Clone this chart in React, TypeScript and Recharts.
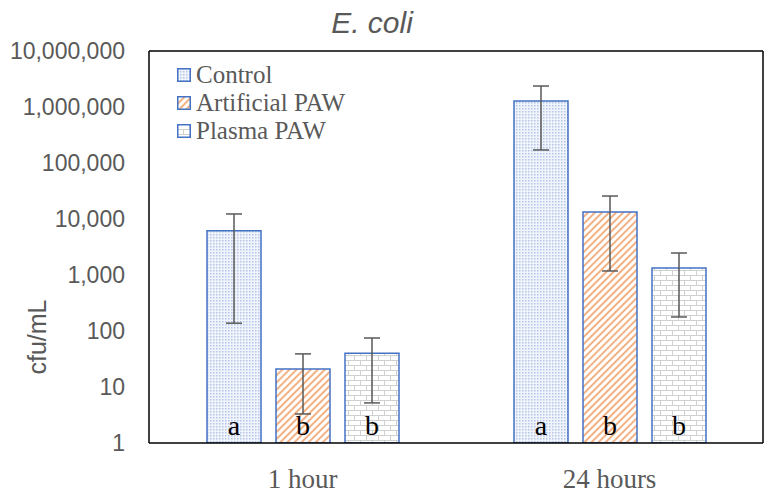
import React from "react";
import {
  BarChart,
  Bar,
  XAxis,
  YAxis,
  ErrorBar,
  LabelList,
  Legend,
  Label,
} from "recharts";

const CATEGORIES = ["1 hour", "24 hours"];

// bar heights (cfu/mL)
const CONTROL = [6150, 1280000];
const ARTIFICIAL = [21, 13300];
const PLASMA = [40, 1330];

// error bar ends (absolute values)
const CONTROL_LOW = [138, 171000];
const CONTROL_HIGH = [12300, 2370000];
const ARTIFICIAL_LOW = [3.3, 1180];
const ARTIFICIAL_HIGH = [39, 25700];
const PLASMA_LOW = [5.2, 178];
const PLASMA_HIGH = [75, 2470];

// significance letters
const CONTROL_LETTERS = ["a", "a"];
const ARTIFICIAL_LETTERS = ["b", "b"];
const PLASMA_LETTERS = ["b", "b"];

const Y_TICKS = [1, 10, 100, 1000, 10000, 100000, 1000000, 10000000];

const SERIES = [
  { key: "control", name: "Control", pattern: "pat-dots" },
  { key: "artificial", name: "Artificial PAW", pattern: "pat-stripes" },
  { key: "plasma", name: "Plasma PAW", pattern: "pat-brick" },
] as const;

const data = CATEGORIES.map((name, i) => ({
  name,
  control: CONTROL[i],
  controlErr: [CONTROL[i] - CONTROL_LOW[i], CONTROL_HIGH[i] - CONTROL[i]],
  controlLetter: CONTROL_LETTERS[i],
  artificial: ARTIFICIAL[i],
  artificialErr: [
    ARTIFICIAL[i] - ARTIFICIAL_LOW[i],
    ARTIFICIAL_HIGH[i] - ARTIFICIAL[i],
  ],
  artificialLetter: ARTIFICIAL_LETTERS[i],
  plasma: PLASMA[i],
  plasmaErr: [PLASMA[i] - PLASMA_LOW[i], PLASMA_HIGH[i] - PLASMA[i]],
  plasmaLetter: PLASMA_LETTERS[i],
}));

const GREY = "#595959";
const BLUE = "#4472c4";

const letterLabel = (props: any) => {
  const { x, y, width, height, value } = props;
  return (
    <text
      x={Number(x) + Number(width) / 2}
      y={Number(y) + Number(height) - 8}
      textAnchor="middle"
      fontFamily="Liberation Serif"
      fontSize={28}
      fill="#000"
    >
      {value}
    </text>
  );
};

const renderLegend = () => (
  <div style={{ display: "flex", flexDirection: "column" }}>
    {SERIES.map((s) => (
      <div
        key={s.key}
        style={{ height: 28, display: "flex", alignItems: "center" }}
      >
        <svg width={14} height={14} style={{ flex: "none" }}>
          <rect
            x={0.75}
            y={0.75}
            width={12.5}
            height={12.5}
            fill={`url(#${s.pattern})`}
            stroke={BLUE}
            strokeWidth={1.5}
          />
        </svg>
        <span
          style={{
            marginLeft: 5,
            fontFamily: "Liberation Serif",
            fontSize: 25,
            color: GREY,
            whiteSpace: "nowrap",
          }}
        >
          {s.name}
        </span>
      </div>
    ))}
  </div>
);

export default function App() {
  return (
    <div style={{ position: "absolute", left: 0, top: 0, background: "#fff" }}>
      <BarChart
        width={774}
        height={498}
        data={data}
        margin={{ top: 50, right: 10, bottom: 0, left: 0 }}
        barSize={54}
        barGap={15}
      >
        <defs>
          <pattern id="pat-dots" width={3} height={3} patternUnits="userSpaceOnUse">
            <rect width={3} height={3} fill="#f1f5fb" />
            <rect width={1.5} height={1.5} fill="#b3c6e7" />
          </pattern>
          <pattern
            id="pat-stripes"
            width={5}
            height={5}
            patternUnits="userSpaceOnUse"
            patternTransform="rotate(45)"
          >
            <rect width={5} height={5} fill="#fff" />
            <line x1={1} y1={0} x2={1} y2={5} stroke="#f4b183" strokeWidth={2} />
          </pattern>
          <pattern id="pat-brick" width={12} height={10} patternUnits="userSpaceOnUse">
            <rect width={12} height={10} fill="#fff" />
            <path
              d="M0 0.5 H12 M0 5.5 H12 M0.5 0 V5 M6.5 5 V10"
              stroke="#d0d0d0"
              strokeWidth={1}
              fill="none"
            />
          </pattern>
        </defs>

        <text
          x={372}
          y={33}
          textAnchor="middle"
          fontFamily="Liberation Sans"
          fontStyle="italic"
          fontSize={30}
          fill={GREY}
        >
          E. coli
        </text>

        <XAxis
          dataKey="name"
          height={55}
          tickSize={0}
          tickMargin={26}
          tickLine={false}
          axisLine={{ stroke: "#000", strokeWidth: 1.5 }}
          tick={{ fontFamily: "Liberation Serif", fontSize: 27, fill: GREY }}
        />
        <XAxis
          xAxisId="top"
          dataKey="name"
          orientation="top"
          height={1}
          tick={false}
          tickLine={false}
          axisLine={{ stroke: "#000", strokeWidth: 1.5 }}
        />
        <YAxis
          scale="log"
          domain={[1, 10000000]}
          ticks={Y_TICKS}
          interval={0}
          allowDataOverflow
          width={149}
          tickSize={0}
          tickMargin={24}
          tickLine={false}
          axisLine={{ stroke: "#000", strokeWidth: 1.5 }}
          tickFormatter={(v: number) => v.toLocaleString("en-US")}
          tick={{ fontFamily: "Liberation Sans", fontSize: 23, fill: GREY }}
        >
          <Label
            content={() => (
              <text
                x={37}
                y={337}
                transform="rotate(-90 37 337)"
                textAnchor="middle"
                dominantBaseline="central"
                fontFamily="Liberation Sans"
                fontSize={25}
                fill={GREY}
              >
                cfu/mL
              </text>
            )}
          />
        </YAxis>
        <YAxis
          yAxisId="right"
          orientation="right"
          scale="log"
          domain={[1, 10000000]}
          allowDataOverflow
          width={1}
          tick={false}
          tickLine={false}
          axisLine={{ stroke: "#000", strokeWidth: 1.5 }}
        />

        <Legend
          layout="vertical"
          align="center"
          verticalAlign="middle"
          content={renderLegend}
          wrapperStyle={{ left: 177, top: 61, width: 230, height: 90 }}
        />

        {SERIES.map((s) => (
          <Bar
            key={s.key}
            dataKey={s.key}
            name={s.name}
            fill={`url(#${s.pattern})`}
            stroke={BLUE}
            strokeWidth={1.5}
            isAnimationActive={false}
          >
            <ErrorBar
              dataKey={`${s.key}Err`}
              direction="y"
              width={8}
              stroke={GREY}
              strokeWidth={1.5}
              isAnimationActive={false}
            />
            <LabelList dataKey={`${s.key}Letter`} content={letterLabel} />
          </Bar>
        ))}
      </BarChart>
    </div>
  );
}
